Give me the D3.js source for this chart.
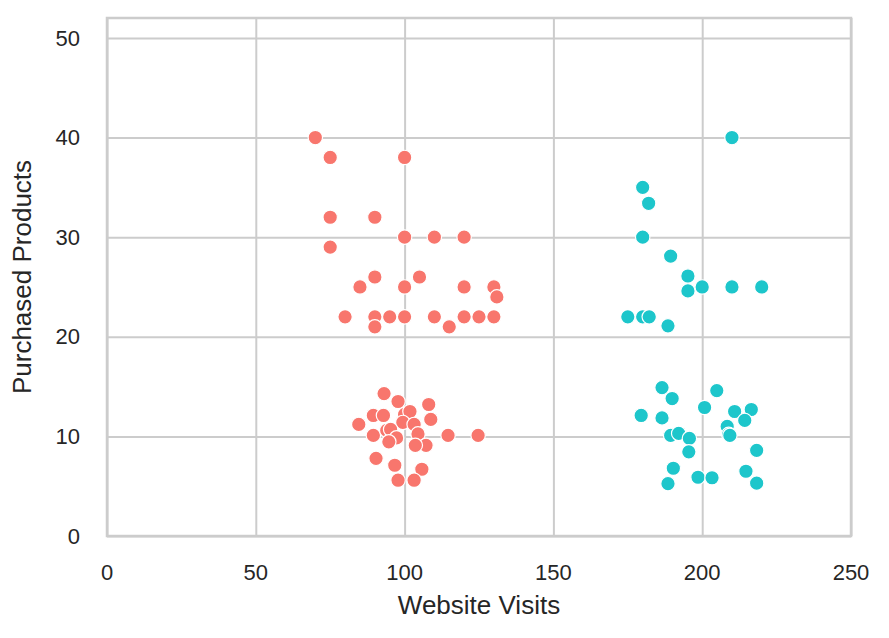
<!DOCTYPE html>
<html>
<head>
<meta charset="utf-8">
<script src="https://cdn.jsdelivr.net/npm/d3@7"></script>
<style>
	body { margin: 0; background: #fff; }
	svg text { font-family: "Liberation Sans", Arial, sans-serif; fill: #262626; }
	.grid line { stroke: #cccccc; stroke-width: 2; }
</style>
</head>
<body>
<svg id="chart" width="889" height="638"></svg>
<script>
// group 1 (salmon)
const visitsA = [70, 75, 100, 75, 90, 100, 110, 120, 75, 90, 105, 85, 100, 120, 130, 131,
	80, 90, 95, 100, 110, 115, 120, 125, 130, 90,
	93.1, 97.8, 108.1, 89.5, 92.9, 100, 101.8, 108.8, 84.6, 99.4, 103.2, 89.5, 94, 95.3,
	97.3, 94.7, 104.5, 107.2, 103.6, 114.6, 124.7, 90.4, 96.7, 105.8, 97.8, 103.2];
const productsA = [40, 38, 38, 32, 32, 30, 30, 30, 29, 26, 26, 25, 25, 25, 25, 24,
	22, 22, 22, 22, 22, 21, 22, 22, 22, 21,
	14.3, 13.5, 13.2, 12.1, 12.1, 12.2, 12.5, 11.7, 11.2, 11.4, 11.2, 10.1, 10.6, 10.7,
	9.85, 9.45, 10.25, 9.1, 9.1, 10.1, 10.1, 7.8, 7.1, 6.7, 5.6, 5.6];

// group 2 (teal)
const visitsB = [210, 180, 182, 180, 189.4, 195.2, 200, 195.2, 210, 220, 175, 180, 182.2, 188.5,
	186.5, 189.9, 204.9, 200.8, 210.9, 216.5, 214.3, 179.5, 186.5, 208.4, 208.9, 209.3, 189.4,
	192.1, 195.7, 195.5, 218.3, 190.3, 214.7, 198.6, 203.3, 188.5, 218.3];
const productsB = [40, 35, 33.4, 30, 28.1, 26.1, 25, 24.6, 25, 25, 22, 22, 22, 21.1,
	14.9, 13.8, 14.6, 12.9, 12.5, 12.7, 11.6, 12.1, 11.85, 11.0, 10.2, 10.1, 10.1,
	10.3, 9.8, 8.45, 8.6, 6.8, 6.5, 5.9, 5.85, 5.25, 5.3];

const xTicks = [0, 50, 100, 150, 200, 250];
const yTicks = [0, 10, 20, 30, 40, 50];
const colorA = "#f8766d";
const colorB = "#1dc6cb";

const width = 889, height = 638;
const margin = {top: 18, right: 38, bottom: 102, left: 107};
const innerW = width - margin.left - margin.right;
const innerH = height - margin.top - margin.bottom;

const svg = d3.select("#chart");
const g = svg.append("g").attr("transform", `translate(${margin.left},${margin.top})`);

const x = d3.scaleLinear().domain([0, 250]).range([0, innerW]);
const y = d3.scaleLinear().domain([0, 52]).range([innerH, 0]);

// grid
g.append("g").attr("class", "grid")
	.call(d3.axisBottom(x).tickValues(xTicks).tickSize(-innerH).tickFormat(""))
	.attr("transform", `translate(0,${innerH})`)
	.call(a => a.select(".domain").remove());
g.append("g").attr("class", "grid")
	.call(d3.axisLeft(y).tickValues(yTicks).tickSize(-innerW).tickFormat(""))
	.call(a => a.select(".domain").remove());

// frame
g.append("rect")
	.attr("width", innerW).attr("height", innerH)
	.attr("fill", "none").attr("stroke", "#cccccc").attr("stroke-width", 2.5);

// tick labels
g.selectAll(".xlab").data(xTicks).enter().append("text")
	.attr("x", d => x(d)).attr("y", innerH + 44)
	.attr("text-anchor", "middle").attr("font-size", 22)
	.text(d => d);
g.selectAll(".ylab").data(yTicks).enter().append("text")
	.attr("x", -27).attr("y", d => y(d)).attr("dy", "0.35em")
	.attr("text-anchor", "end").attr("font-size", 22)
	.text(d => d);

// axis titles
g.append("text")
	.attr("x", innerW / 2).attr("y", innerH + 78)
	.attr("text-anchor", "middle").attr("font-size", 26)
	.text("Website Visits");
g.append("text")
	.attr("transform", `translate(${-76},${innerH / 2}) rotate(-90)`)
	.attr("text-anchor", "middle").attr("font-size", 26)
	.text("Purchased Products");

// points
function drawGroup(xs, ys, color) {
	g.append("g").selectAll("circle")
		.data(d3.zip(xs, ys)).enter().append("circle")
		.attr("cx", d => x(d[0]))
		.attr("cy", d => y(d[1]))
		.attr("r", 7.2)
		.attr("fill", color)
		.attr("stroke", "#fff")
		.attr("stroke-width", 1.2);
}
drawGroup(visitsA, productsA, colorA);
drawGroup(visitsB, productsB, colorB);
</script>
</body>
</html>
